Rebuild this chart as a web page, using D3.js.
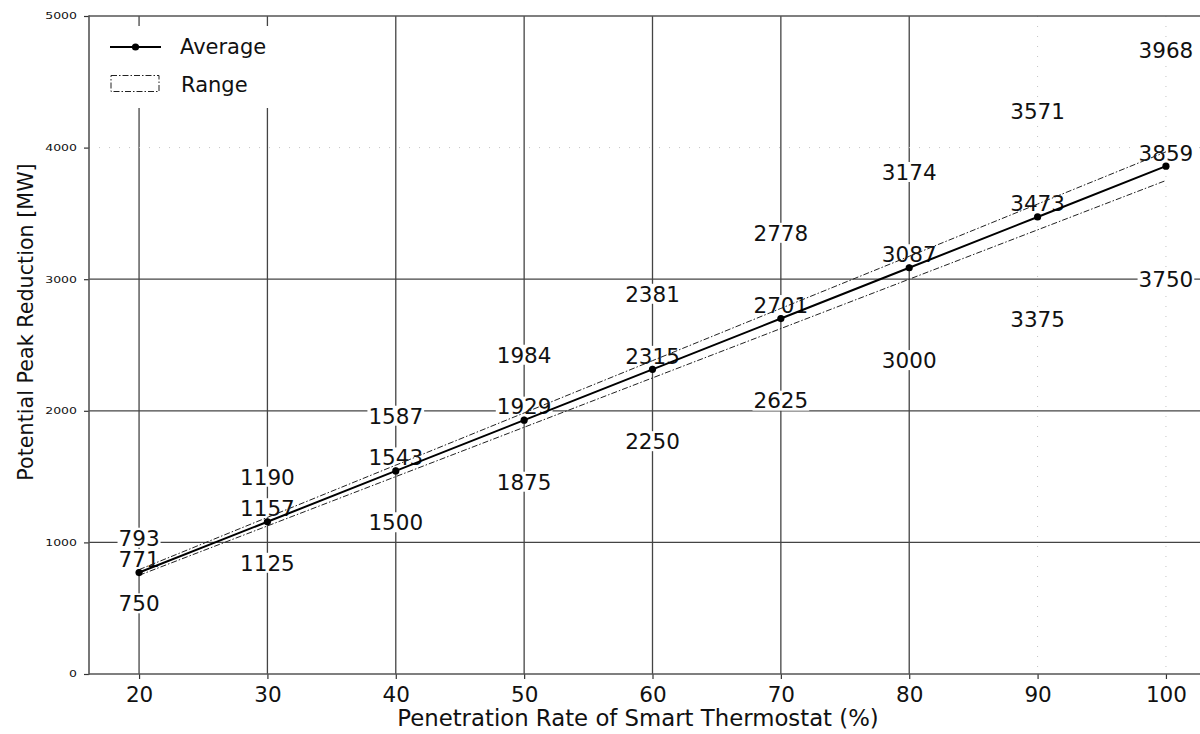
<!DOCTYPE html>
<html>
<head>
<meta charset="utf-8">
<script src="https://cdn.jsdelivr.net/npm/d3@7"></script>
<style>
  body { margin: 0; background: #fff; }
  svg { display: block; }
  text { font-family: "DejaVu Sans", sans-serif; fill: #111; }
</style>
</head>
<body>
<svg id="chart" width="1200" height="734"></svg>
<script>
// Smart thermostat penetration (%) and the resulting peak reduction (MW)
const penetration = [20, 30, 40, 50, 60, 70, 80, 90, 100];
const averageMW = [771, 1157, 1543, 1929, 2315, 2701, 3087, 3473, 3859];
const upperMW = [793, 1190, 1587, 1984, 2381, 2778, 3174, 3571, 3968];
const lowerMW = [750, 1125, 1500, 1875, 2250, 2625, 3000, 3375, 3750];
const xTicks = [20, 30, 40, 50, 60, 70, 80, 90, 100];
const yTicks = [0, 1000, 2000, 3000, 4000, 5000];

const rows = penetration.map((p, i) => ({
  p, avg: averageMW[i], hi: upperMW[i], lo: lowerMW[i]
}));

const svg = d3.select("#chart");
const x = d3.scaleLinear().domain([16.1, 103.9]).range([89, 1216]);
const y = d3.scaleLinear().domain([0, 5000]).range([674, 16]);
const [x0, x1] = x.range();
const [yb, yt] = y.range();

// ---- grid ----
const grid = svg.append("g");
const faintX = v => v > 80;
const faintY = v => v > 3000;
grid.selectAll("line.gx").data(xTicks).join("line")
  .attr("x1", d => x(d)).attr("x2", d => x(d))
  .attr("y1", yt).attr("y2", yb)
  .attr("stroke", d => faintX(d) ? "#c4c4c4" : "#444")
  .attr("stroke-width", d => faintX(d) ? 1 : 1.3)
  .attr("stroke-dasharray", d => faintX(d) ? "1,9" : null);
grid.selectAll("line.gy").data(yTicks.filter(v => v > 0 && v < 5000)).join("line")
  .attr("x1", x0).attr("x2", x1)
  .attr("y1", d => y(d)).attr("y2", d => y(d))
  .attr("stroke", d => faintY(d) ? "#c4c4c4" : "#444")
  .attr("stroke-width", d => faintY(d) ? 1 : 1.3)
  .attr("stroke-dasharray", d => faintY(d) ? "1,9" : null);

// ---- value labels (white boxes hide the grid behind them) ----
const LABEL_FS = 21.5;
const labelSpecs = [];
rows.forEach(r => {
  labelSpecs.push({ p: r.p, v: r.avg, cy: y(r.avg) - 13.5 });
  labelSpecs.push({ p: r.p, v: r.hi, cy: y(r.hi) - (14.5 + 0.022 * r.hi) });
  labelSpecs.push({ p: r.p, v: r.lo, cy: y(r.lo) + (10.4 + 0.0235 * r.lo) });
});
const labels = svg.append("g");
const lg = labels.selectAll("g").data(labelSpecs).join("g");
lg.append("rect").attr("fill", "#fff");
const lbText = lg.append("text")
  .attr("x", d => x(d.p))
  .attr("y", d => d.cy + 0.365 * LABEL_FS)
  .attr("text-anchor", "middle")
  .style("font-size", LABEL_FS + "px")
  .text(d => d.v);
lbText.each(function(d) {
  const bb = this.getBBox();
  d3.select(this.parentNode).select("rect")
    .attr("x", bb.x - 1).attr("width", bb.width + 2)
    .attr("y", d.cy - 10).attr("height", 20);
});

// ---- range lines ----
const lineGen = key => d3.line().x(d => x(d.p)).y(d => y(d[key]));
["hi", "lo"].forEach(k => {
  svg.append("path").datum(rows)
    .attr("d", lineGen(k))
    .attr("fill", "none")
    .attr("stroke", "#222")
    .attr("stroke-width", 1)
    .attr("stroke-dasharray", "6,2,1.5,2");
});

// ---- average line ----
svg.append("path").datum(rows)
  .attr("d", lineGen("avg"))
  .attr("fill", "none")
  .attr("stroke", "#000")
  .attr("stroke-width", 2);
svg.append("g").selectAll("circle").data(rows).join("circle")
  .attr("cx", d => x(d.p)).attr("cy", d => y(d.avg))
  .attr("r", 3.6).attr("fill", "#000");

// ---- axes ----
const xAxis = svg.append("g").attr("transform", `translate(0,${yb})`)
  .call(d3.axisBottom(x).tickValues(xTicks).tickSize(5).tickPadding(8));
xAxis.select(".domain").remove();
xAxis.selectAll("line").attr("stroke", "#333").attr("stroke-width", 1.2);
xAxis.selectAll("text").style("font-size", LABEL_FS + "px")
  .style("font-family", '"DejaVu Sans", sans-serif').attr("fill", "#111");

const yAxis = svg.append("g").attr("transform", `translate(${x0},0)`)
  .call(d3.axisLeft(y).tickValues(yTicks).tickFormat(d3.format("d")).tickSize(5).tickPadding(7));
yAxis.select(".domain").remove();
yAxis.selectAll("line").attr("stroke", "#333").attr("stroke-width", 1.2);
yAxis.selectAll("text").style("font-size", "12.5px")
  .style("font-family", '"DejaVu Sans", sans-serif').attr("fill", "#111")
  .attr("transform", "scale(1,0.74)");

// ---- spines ----
const spines = svg.append("g").attr("stroke", "#555").attr("stroke-width", 1.6);
spines.append("line").attr("x1", x0).attr("x2", x0).attr("y1", yt - 0.8).attr("y2", yb + 0.8);
spines.append("line").attr("x1", x0).attr("x2", x1).attr("y1", yb).attr("y2", yb);
spines.append("line").attr("x1", x0).attr("x2", x1).attr("y1", yt).attr("y2", yt);

// ---- axis titles ----
svg.append("text")
  .attr("transform", "translate(33,322) rotate(-90)")
  .attr("text-anchor", "middle")
  .style("font-size", "20.7px")
  .text("Potential Peak Reduction [MW]");
svg.append("text")
  .attr("x", 638).attr("y", 726)
  .attr("text-anchor", "middle")
  .style("font-size", "22.8px")
  .text("Penetration Rate of Smart Thermostat (%)");

// ---- legend ----
const legend = svg.append("g");
legend.append("rect").attr("x", 96).attr("y", 26).attr("width", 192).attr("height", 82).attr("fill", "#fff");
legend.append("line").attr("x1", 110).attr("x2", 161).attr("y1", 47).attr("y2", 47)
  .attr("stroke", "#000").attr("stroke-width", 2);
legend.append("circle").attr("cx", 135.5).attr("cy", 47).attr("r", 3.6).attr("fill", "#000");
legend.append("text").attr("x", 180).attr("y", 54).style("font-size", "21px").text("Average");
legend.append("rect").attr("x", 111).attr("y", 75.5).attr("width", 48).attr("height", 16)
  .attr("fill", "none").attr("stroke", "#222").attr("stroke-width", 1)
  .attr("stroke-dasharray", "6,2,1.5,2");
legend.append("text").attr("x", 181).attr("y", 92).style("font-size", "21px").text("Range");
</script>
</body>
</html>
